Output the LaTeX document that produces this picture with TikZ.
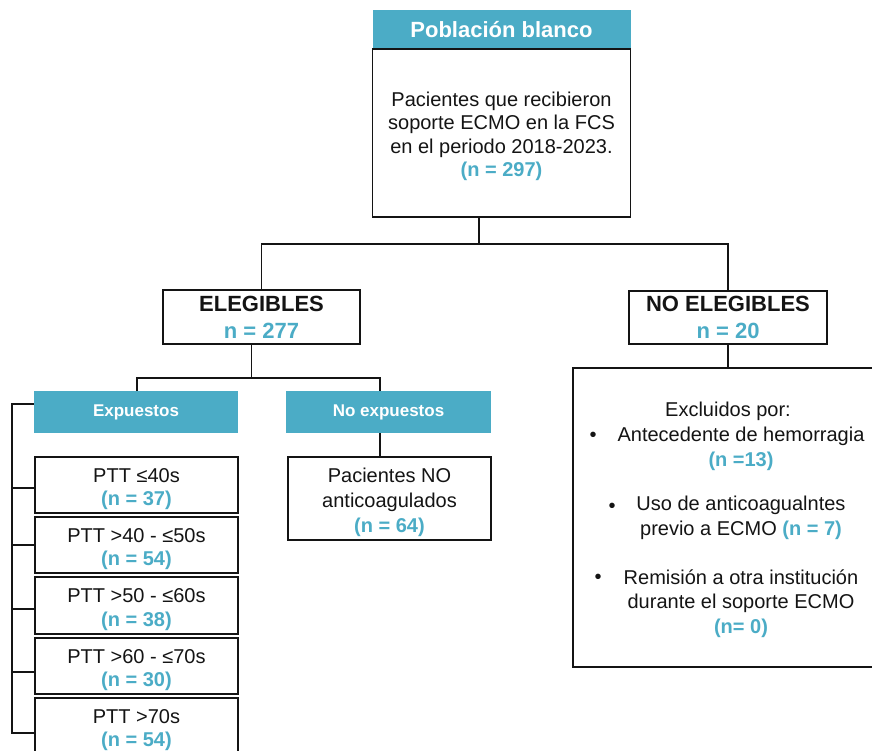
\documentclass[tikz,border=0pt]{standalone}
\usepackage{fontspec}
\setmainfont{Liberation Sans}
\definecolor{teal1}{RGB}{75,172,198}
\definecolor{ink}{RGB}{20,20,20}
\newcommand\numc[1]{{\color{teal1}\bfseries #1}}
\begin{document}
\begin{tikzpicture}[x=1pt,y=-1pt,
  line/.style={draw=ink, line width=1.6pt},
  box/.style={draw=ink, line width=1.6pt, fill=white, inner sep=0pt, align=center, text=ink,
              font=\fontsize{20}{24}\selectfont},
  hbar/.style={fill=teal1, inner sep=0pt, align=center, text=white},
  tx/.style={inner sep=0pt, align=center, text=ink, font=\fontsize{20}{24.5}\selectfont}
]
\useasboundingbox (0,0) rectangle (872,751);
\fill[white] (0,0) rectangle (872,751);
\clip (0,0) rectangle (872,751);

% top
\node[hbar, minimum width=258pt, minimum height=39pt, font=\bfseries\fontsize{22}{26}\selectfont]
  (hdr) at (501.5,29.5) {Población blanco};
\node[box, minimum width=258pt, minimum height=168pt] (top) at (501.5,133) {};
\node[tx, font=\fontsize{20}{23.5}\selectfont] (topt) at (501.5,136.5)
  {Pacientes que recibieron\\ soporte ECMO en la FCS\\ en el periodo 2018-2023.\\ \numc{(n = 297)}};

% level 2
\node[box, minimum width=197pt, minimum height=54pt, font=\bfseries\fontsize{22}{27}\selectfont]
  (elig) at (261.5,317) {ELEGIBLES\\ \numc{n = 277}};
\node[box, minimum width=198pt, minimum height=53pt, font=\bfseries\fontsize{22}{27}\selectfont]
  (noelig) at (728,317.5) {NO ELEGIBLES\\ \numc{n = 20}};

% level 3 headers
\node[hbar, minimum width=204pt, minimum height=42pt, font=\bfseries\fontsize{17}{20}\selectfont]
  (exp) at (136,412) {Expuestos};
\node[hbar, minimum width=205pt, minimum height=42pt, font=\bfseries\fontsize{17}{20}\selectfont]
  (noexp) at (388.5,412) {No expuestos};

% no expuestos body
\node[box, minimum width=203pt, minimum height=83pt] (nbox) at (389.5,498.5) {};
\node[tx, font=\fontsize{20}{25}\selectfont] (nboxt) at (389.5,502.5)
  {Pacientes NO\\ anticoagulados\\ \numc{(n = 64)}};

% PTT boxes
\node[box, minimum width=203pt, minimum height=56pt] (p1) at (136.5,485) {};
\node[box, minimum width=203pt, minimum height=56pt] (p2) at (136.5,545) {};
\node[box, minimum width=203pt, minimum height=57pt] (p3) at (136.5,605.5) {};
\node[box, minimum width=203pt, minimum height=56pt] (p4) at (136.5,666) {};
\node[box, minimum width=203pt, minimum height=60pt] (p5) at (136.5,728) {};
\node[tx, font=\fontsize{20}{23.5}\selectfont] (p1t) at (136.5,489) {PTT ≤40s\\ \numc{(n = 37)}};
\node[tx, font=\fontsize{20}{23.5}\selectfont] (p2t) at (136.5,549) {PTT >40 - ≤50s\\ \numc{(n = 54)}};
\node[tx, font=\fontsize{20}{23.5}\selectfont] (p3t) at (136.5,609.5) {PTT >50 - ≤60s\\ \numc{(n = 38)}};
\node[tx, font=\fontsize{20}{23.5}\selectfont] (p4t) at (136.5,670) {PTT >60 - ≤70s\\ \numc{(n = 30)}};
\node[tx, font=\fontsize{20}{23.5}\selectfont] (p5t) at (136.5,730) {PTT >70s\\ \numc{(n = 54)}};

% excluded box
\node[box, minimum width=332pt, minimum height=299pt] (excl) at (739,517.5) {};
\node[tx] (ex0) at (728,411) {Excluidos por:};
\node[tx] (ex1) at (741,449) {Antecedente de hemorragia\\ \numc{(n =13)}};
\node[tx] (ex2) at (741,518) {Uso de anticoagualntes\\ previo a ECMO \numc{(n = 7)}};
\node[tx] (ex3) at (741,603.5) {Remisión a otra institución\\ durante el soporte ECMO\\ \numc{(n= 0)}};
\node[tx] (b1) at (593,437) {•};
\node[tx] (b2) at (612,508) {•};
\node[tx] (b3) at (598,579) {•};

% connectors
\coordinate (split) at ([xshift=-22.5pt,yshift=-26pt]top.south);
\draw[line] ([xshift=-22.5pt]top.south) -- (split);
\draw[line] (split) -| (elig.north);
\draw[line] (split) -| (noelig.north);

\coordinate (split2) at ([xshift=-10pt,yshift=-33pt]elig.south);
\draw[line] ([xshift=-10pt]elig.south) -- (split2);
\draw[line] (split2) -| ([xshift=1pt]exp.north);
\draw[line] (split2) -| ([xshift=-8.5pt]noexp.north);
\draw[line] ([xshift=-8.5pt]noexp.south) -- ([xshift=-8.5pt]noexp.south |- nbox.north);

\draw[line] (noelig.south) -- (noelig.south |- excl.north);

\coordinate (bx) at (12,0);
\draw[line] ([yshift=8pt]exp.west) -| ([yshift=-5pt]p5.west -| bx) -- ([yshift=-5pt]p5.west);
\draw[line] ([yshift=-3pt]p1.west) -- ([yshift=-3pt]p1.west -| bx);
\draw[line] (p2.west) -- (p2.west -| bx);
\draw[line] ([yshift=-3.5pt]p3.west) -- ([yshift=-3.5pt]p3.west -| bx);
\draw[line] ([yshift=-6pt]p4.west) -- ([yshift=-6pt]p4.west -| bx);
\end{tikzpicture}
\end{document}
